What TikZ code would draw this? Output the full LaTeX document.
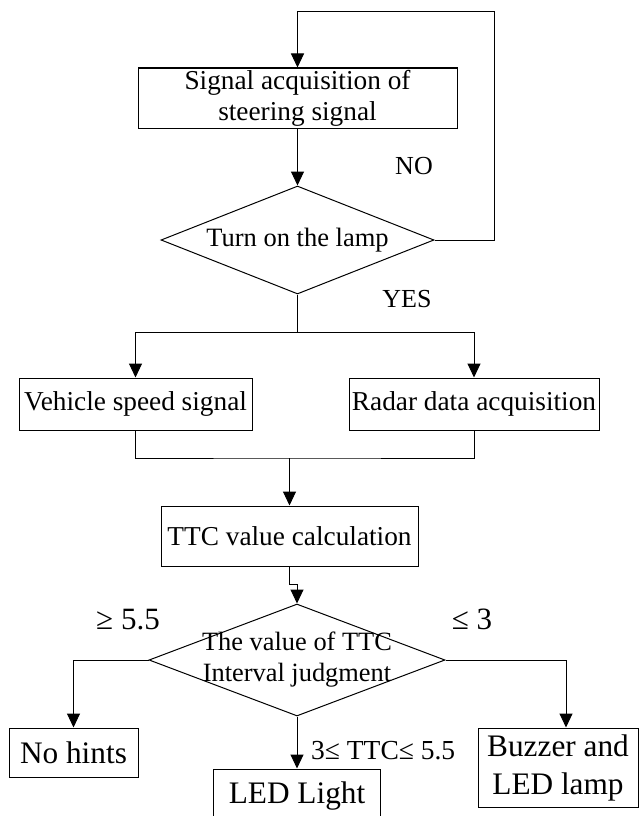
\documentclass[tikz,border=0pt]{standalone}
\usepackage{fontspec}
\setmainfont{Liberation Serif}
\usepackage{tikz}
\usetikzlibrary{shapes.geometric,arrows.meta,calc}

\begin{document}
\begin{tikzpicture}[x=1pt,y=-1pt,
	box/.style={draw,rectangle,inner sep=0pt,align=center,line width=1pt},
	decision/.style={draw,diamond,inner sep=0pt,line width=1pt},
	line/.style={line width=1pt},
	arr/.style={line width=1pt,-{Triangle[width=13pt,length=14pt]}},
	lbl/.style={inner sep=0pt,anchor=base}]
	\useasboundingbox (0,0) rectangle (640,816);
	\node[box,minimum width=319pt,minimum height=60pt,font=\fontsize{27.3}{31}\selectfont] (acq) at (297.5,98) {Signal acquisition of\\steering signal};
	\node[decision,minimum width=273pt,minimum height=108pt,
		label={[font=\fontsize{26.5}{30}\selectfont]center:Turn on the lamp}] (lamp) at (297.5,240) {};
	\node[box,minimum width=233pt,minimum height=52pt,font=\fontsize{27.3}{31}\selectfont] (veh) at (135.5,404) {Vehicle speed signal};
	\node[box,minimum width=250pt,minimum height=52pt,font=\fontsize{27.3}{31}\selectfont] (radar) at (474,404) {Radar data acquisition};
	\node[box,minimum width=257pt,minimum height=60pt,font=\fontsize{27.3}{31}\selectfont] (ttc) at (289.5,536) {TTC value calculation};
	\node[decision,minimum width=296pt,minimum height=112pt,
		label={[align=center,font=\fontsize{26.4}{31}\selectfont]center:The value of TTC\\Interval judgment}] (judge) at (297,660) {};
	\node[box,minimum width=129pt,minimum height=49pt,font=\fontsize{31.3}{38}\selectfont] (nohint) at (73.5,752.5) {No hints};
	\node[box,minimum width=167pt,minimum height=54pt,font=\fontsize{31.3}{38}\selectfont] (led) at (297,796) {LED Light};
	\node[box,minimum width=160pt,minimum height=79pt,font=\fontsize{31.3}{38}\selectfont] (buzz) at (558,767.5) {Buzzer and\\LED lamp};

	\node[lbl,font=\fontsize{26}{30}\selectfont] (no) at (414,174) {NO};
	\node[lbl,font=\fontsize{26}{30}\selectfont] (yes) at (407,307) {YES};
	\node[lbl,font=\fontsize{31}{36}\selectfont] (high) at (128,629) {≥ 5.5};
	\node[lbl,font=\fontsize{31}{36}\selectfont] (low) at (472,629) {≤ 3};
	\node[lbl,anchor=base west,font=\fontsize{27.5}{32}\selectfont] (mid) at (311,759) {3≤ TTC≤ 5.5};

	\coordinate (loop) at (494,12);
	\coordinate (split) at (297.5,332);
	\coordinate (merge) at (289.5,458);
	\draw[arr] (acq.south) -- (lamp.north);
	\draw[arr] (lamp.east) -| (loop) -| (acq.north);
	\draw[line] (lamp.south) -- (split);
	\draw[arr] (split) -| (veh.north);
	\draw[arr] (split) -| (radar.north);
	\draw[line] (veh.south) |- (merge) -| (radar.south);
	\draw[arr] (merge) -- (ttc.north);
	\draw[arr] (ttc.south) -- ++(0,18) -| (judge.north);
	\draw[arr] (judge.west) -| (nohint.north);
	\draw[arr] (judge.east) -| ($(buzz.north)+(8,0)$);
	\draw[arr] (judge.south) -- (led.north);
\end{tikzpicture}
\end{document}
